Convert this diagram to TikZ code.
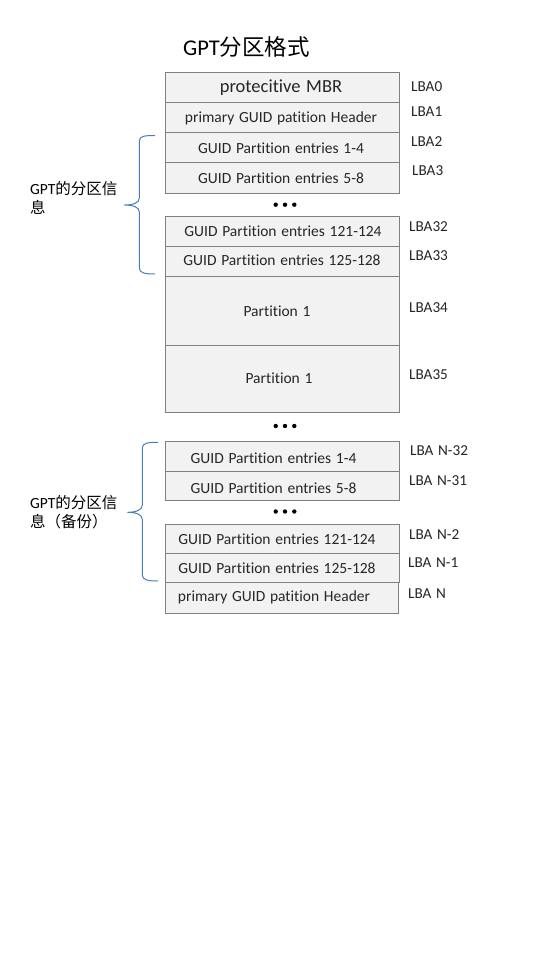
\documentclass[tikz,border=0pt]{standalone}
\usepackage{fontspec}
\setmainfont[Ligatures={NoCommon}, WordSpace=1.35]{Carlito}
\newfontfamily\cjk{Noto Sans CJK SC}
\definecolor{boxfill}{HTML}{F2F2F2}
\definecolor{boxline}{HTML}{808080}
\definecolor{bracecol}{HTML}{4A7EBB}
\tikzset{
  blk/.style={draw=boxline, line width=1pt, fill=boxfill, anchor=north west, minimum width=234pt, inner sep=0pt, outer sep=0pt},
  txt/.style={font=\fontsize{15.5}{18}\selectfont, inner sep=0pt, text=black!85},
  lba/.style={font=\fontsize{15.2}{17}\selectfont, inner sep=0pt, anchor=west, text=black!85},
  brc/.style={draw=bracecol, line width=1pt},
  dot3/.style={fill=black},
}
\begin{document}
\begin{tikzpicture}[x=1pt,y=-1pt]
\useasboundingbox[fill=white] (0,0) rectangle (540,960);
% title
\node[inner sep=0pt, anchor=west, font=\fontsize{22.5}{26}\selectfont] (title) at (183,47) {GPT{\cjk 分区格式}};
% upper boxes
\node[blk, minimum height=30pt] (b0) at (165,73) {};
\node[blk, minimum height=30pt] (b1) at (165,103) {};
\node[blk, minimum height=30pt] (b2) at (165,133) {};
\node[blk, minimum height=30pt] (b3) at (165,163) {};
\node[blk, minimum height=30pt] (b32) at (165,216) {};
\node[blk, minimum height=30pt] (b33) at (165,246) {};
\node[blk, minimum height=69pt] (b34) at (165,276) {};
\node[blk, minimum height=67pt] (b35) at (165,345) {};
% lower boxes
\node[blk, minimum height=30pt] (c1) at (165,441) {};
\node[blk, minimum height=29pt] (c2) at (165,471) {};
\node[blk, minimum height=29pt] (c3) at (165,524) {};
\node[blk, minimum height=29pt] (c4) at (165,553) {};
\node[blk, minimum height=31pt, minimum width=233pt] (c5) at (165,582) {};
% box texts
\node[txt, font=\fontsize{18.5}{21}\selectfont] (t0) at (281,88) {protecitive MBR};
\node[txt] (t1) at (281,118) {primary GUID patition Header};
\node[txt] (t2) at (281,148) {GUID Partition entries 1-4};
\node[txt] (t3) at (281,178) {GUID Partition entries 5-8};
\node[txt] (t32) at (283,231) {GUID Partition entries 121-124};
\node[txt] (t33) at (282,260) {GUID Partition entries 125-128};
\node[txt] (t34) at (277,311) {Partition 1};
\node[txt] (t35) at (279,378) {Partition 1};
\node[txt] (u1) at (273.5,458) {GUID Partition entries 1-4};
\node[txt] (u2) at (273.5,488) {GUID Partition entries 5-8};
\node[txt] (u3) at (277,539) {GUID Partition entries 121-124};
\node[txt] (u4) at (277,568) {GUID Partition entries 125-128};
\node[txt] (u5) at (274,597) {primary GUID patition Header};
% LBA labels
\node[lba] (l0) at (411,87) {LBA0};
\node[lba] (l1) at (411,112) {LBA1};
\node[lba] (l2) at (411,142) {LBA2};
\node[lba] (l3) at (412,171) {LBA3};
\node[lba] (l32) at (409,227) {LBA32};
\node[lba] (l33) at (409,256) {LBA33};
\node[lba] (l34) at (409,308) {LBA34};
\node[lba] (l35) at (409,375) {LBA35};
\node[lba] (m1) at (410,451) {LBA N-32};
\node[lba] (m2) at (409,481) {LBA N-31};
\node[lba] (m3) at (409,535) {LBA N-2};
\node[lba] (m4) at (408,563) {LBA N-1};
\node[lba] (m5) at (408,594) {LBA N};
% dots
\foreach \yy in {204.7,426,511.5}{
  \foreach \xx in {275.7,285,294.3}{
    \fill[dot3] (\xx,\yy) circle (2.2);
  }
}
% left labels
\node[inner sep=0pt, anchor=north west, align=left, font=\fontsize{15.5}{19}\selectfont] (g1) at (30,181) {GPT{\cjk 的分区信}\\{\cjk 息}};
\node[inner sep=0pt, anchor=north west, align=left, font=\fontsize{15.5}{19}\selectfont] (g2) at (30,495) {GPT{\cjk 的分区信}\\{\cjk 息（备份）}};
% braces
\coordinate (p1a) at (155,135.5);
\coordinate (p1b) at (155,274);
\draw[brc] (p1a) .. controls (145,135.5) and (139.3,136) .. (139.3,141)
  -- (139.3,198) .. controls (139.3,203) and (133,205) .. (124.3,205)
  .. controls (133,205) and (139.3,207) .. (139.3,212)
  -- (139.3,268) .. controls (139.3,273) and (145,274) .. (p1b);
\coordinate (p2a) at (158,442.3);
\coordinate (p2b) at (158,581);
\draw[brc] (p2a) .. controls (148,442.3) and (142.3,443) .. (142.3,448)
  -- (142.3,505) .. controls (142.3,510) and (136,512.3) .. (127.3,512.3)
  .. controls (136,512.3) and (142.3,514.5) .. (142.3,519.5)
  -- (142.3,575) .. controls (142.3,580) and (148,581) .. (p2b);
\end{tikzpicture}
\end{document}
